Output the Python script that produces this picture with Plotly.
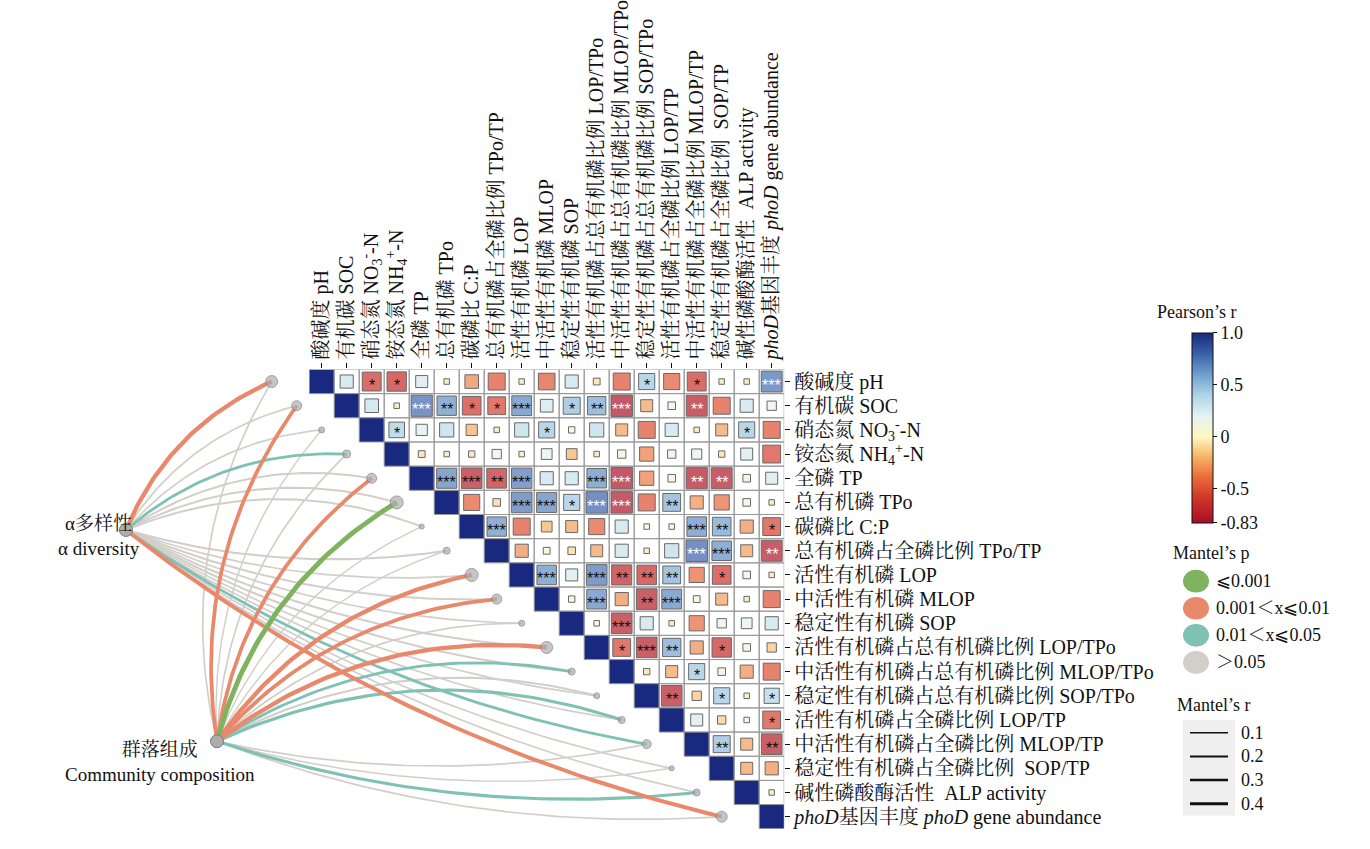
import math
import plotly.graph_objects as go

W, H = 1370, 849
FONT = "Liberation Serif, 'Noto Serif CJK SC', 'Noto Sans CJK SC', serif"

# ---------------- data ----------------
labels = [
    "酸碱度 pH",
    "有机碳 SOC",
    "硝态氮 NO<sub>3</sub><sup>-</sup>-N",
    "铵态氮 NH<sub>4</sub><sup>+</sup>-N",
    "全磷 TP",
    "总有机磷 TPo",
    "碳磷比 C:P",
    "总有机磷占全磷比例 TPo/TP",
    "活性有机磷 LOP",
    "中活性有机磷 MLOP",
    "稳定性有机磷 SOP",
    "活性有机磷占总有机磷比例 LOP/TPo",
    "中活性有机磷占总有机磷比例 MLOP/TPo",
    "稳定性有机磷占总有机磷比例 SOP/TPo",
    "活性有机磷占全磷比例 LOP/TP",
    "中活性有机磷占全磷比例 MLOP/TP",
    "稳定性有机磷占全磷比例\u00a0 SOP/TP",
    "碱性磷酸酶活性\u00a0 ALP activity",
    "<i>phoD</i>基因丰度 <i>phoD</i> gene abundance",
]

# Pearson's r, upper triangle: row i holds columns i+1 .. 18
r_rows = [
    [0.30, -0.62, -0.65, 0.25, -0.05, -0.32, -0.50, -0.05, -0.48, 0.30, -0.08, -0.50, 0.45, -0.45, -0.62, -0.05, -0.05, 0.76],
    [0.32, -0.05, 0.78, 0.65, -0.60, -0.55, 0.68, 0.28, 0.50, 0.58, -0.80, -0.25, 0.10, -0.76, -0.50, 0.30, 0.15],
    [0.42, 0.22, 0.35, -0.22, -0.05, 0.35, 0.45, 0.07, 0.35, -0.25, -0.50, 0.30, -0.05, -0.25, 0.45, -0.50],
    [-0.08, -0.05, -0.07, 0.15, -0.05, 0.20, -0.20, -0.05, 0.12, -0.35, 0.12, 0.18, -0.07, 0.25, -0.55],
    [0.70, -0.74, -0.68, 0.72, 0.30, 0.30, 0.66, -0.80, -0.35, 0.10, -0.78, -0.76, 0.10, 0.25],
    [-0.45, -0.10, 0.74, 0.70, 0.45, 0.80, -0.80, -0.50, 0.55, -0.30, -0.40, 0.10, -0.05],
    [0.65, -0.50, -0.20, -0.25, -0.45, 0.30, 0.05, 0.05, 0.66, 0.60, -0.30, -0.55],
    [-0.30, 0.08, -0.10, -0.25, 0.30, -0.05, 0.35, 0.80, 0.66, -0.25, -0.76],
    [0.66, 0.25, 0.74, -0.70, -0.66, 0.55, -0.40, -0.60, 0.10, -0.05],
    [0.07, 0.68, -0.30, -0.74, 0.68, 0.08, -0.25, -0.05, -0.50],
    [0.05, -0.74, 0.30, -0.05, -0.40, 0.15, 0.20, 0.30],
    [-0.55, -0.74, 0.58, -0.30, -0.65, 0.10, -0.15],
    [-0.07, -0.25, 0.45, 0.10, -0.30, -0.50],
    [-0.74, -0.15, 0.45, -0.05, 0.40],
    [0.25, -0.12, 0.05, -0.55],
    [0.50, -0.25, -0.74],
    [-0.25, -0.30],
    [-0.05],
]
# number of significance stars, same layout as r_rows
sig_rows = [
    [0, 1, 1, 0, 0, 0, 0, 0, 0, 0, 0, 0, 1, 0, 1, 0, 0, 3],
    [0, 0, 3, 2, 1, 1, 3, 0, 1, 2, 3, 0, 0, 2, 0, 0, 0],
    [1, 0, 0, 0, 0, 0, 1, 0, 0, 0, 0, 0, 0, 0, 1, 0],
    [0, 0, 0, 0, 0, 0, 0, 0, 0, 0, 0, 0, 0, 0, 0],
    [3, 3, 2, 3, 0, 0, 3, 3, 0, 0, 2, 2, 0, 0],
    [0, 0, 3, 3, 1, 3, 3, 0, 2, 0, 0, 0, 0],
    [3, 0, 0, 0, 0, 0, 0, 0, 3, 2, 0, 1],
    [0, 0, 0, 0, 0, 0, 0, 3, 3, 0, 2],
    [3, 0, 3, 2, 2, 2, 0, 1, 0, 0],
    [0, 3, 0, 2, 3, 0, 0, 0, 0],
    [0, 3, 0, 0, 0, 0, 0, 0],
    [1, 3, 2, 0, 1, 0, 0],
    [0, 0, 1, 0, 0, 0],
    [2, 0, 1, 0, 1],
    [0, 0, 0, 1],
    [2, 0, 2],
    [0, 0],
    [0],
]

mantel_sources = ["α多样性<br>α diversity", "群落组成<br>Community composition"]
# Mantel's r and p class for each environmental variable
mantel_r_alpha = [0.35, 0.12, 0.12, 0.22, 0.15, 0.15, 0.15, 0.15, 0.12, 0.15,
                  0.12, 0.15, 0.15, 0.12, 0.12, 0.22, 0.12, 0.12, 0.32]
mantel_p_alpha = ["p2", "p4", "p4", "p3", "p4", "p4", "p4", "p4", "p4", "p4",
                  "p4", "p4", "p4", "p4", "p4", "p3", "p4", "p4", "p2"]
mantel_r_comm = [0.12, 0.30, 0.10, 0.12, 0.30, 0.40, 0.10, 0.10, 0.35, 0.30,
                 0.12, 0.35, 0.22, 0.15, 0.25, 0.12, 0.10, 0.25, 0.12]
mantel_p_comm = ["p4", "p2", "p4", "p4", "p2", "p1", "p4", "p4", "p2", "p2",
                 "p4", "p2", "p3", "p4", "p3", "p4", "p4", "p3", "p4"]
node_weight = [0.8, 0.6, 0.2, 0.4, 0.6, 0.9, 0.1, 0.3, 0.9, 0.6,
               0.2, 0.8, 0.3, 0.2, 0.3, 0.5, 0.1, 0.3, 0.7]

p_keys = ["p1", "p2", "p3", "p4"]
p_legend_text = ["⩽0.001", "0.001＜x⩽0.01", "0.01＜x⩽0.05", "＞0.05"]
r_legend_levels = [0.1, 0.2, 0.3, 0.4]
cbar_ticks = [1.0, 0.5, 0.0, -0.5, -0.83]
cbar_ticktext = ["1.0", "0.5", "0", "-0.5", "-0.83"]

# ---------------- styles / geometry ----------------
p_colors = {"p1": "#7FB35F", "p2": "#E8896B", "p3": "#80C1B6", "p4": "#D2CEC9"}
p_order = {"p4": 0, "p3": 1, "p2": 2, "p1": 3}
CMIN, CMAX = -0.83, 1.0
stops = [(-0.83, "#A50F26"), (-0.6, "#CF3329"), (-0.4, "#E8683A"), (-0.2, "#F6B163"),
         (0.0, "#FEF8C2"), (0.2, "#E4F2F3"), (0.4, "#AED4E6"), (0.6, "#6F9FCC"),
         (0.8, "#3A60A8"), (1.0, "#19297F")]
colorscale = [[(v - CMIN) / (CMAX - CMIN), c] for v, c in stops]
DIAG = "#19297F"
TXT = "#111111"

CELL_W, CELL_H = 25.0, 24.55
MX0, MY0 = 309.2, 362.0
N = len(labels)
MX1 = MX0 + N * CELL_W
MY1 = MY0 + N * CELL_H

x_rng = [(0 - MX0) / CELL_W - 0.5, (W - MX0) / CELL_W - 0.5]
y_rng = [(H - MY0) / CELL_H - 0.5, (0 - MY0) / CELL_H - 0.5]

src_pos = [(-7.83, 6.14), (-4.19, 14.88)]
src_label_shift = [(-27, -6), (-57, -21)]


def lw(r):
    return 0.3 + 11.5 * r


def arc(p0, p1, k_up=0.10, k_dn=0.055, n=50):
    x0, y0 = p0[0] * CELL_W, p0[1] * CELL_H
    x1, y1 = p1[0] * CELL_W, p1[1] * CELL_H
    dx, dy = x1 - x0, y1 - y0
    L = math.hypot(dx, dy)
    up = dy < 0
    k = k_up if up else k_dn
    nx = -abs(dy) / L
    ny = (-dx if up else dx) / L
    cx = (x0 + x1) / 2 + nx * 2 * k * L
    cy = (y0 + y1) / 2 + ny * 2 * k * L
    xs, ys = [], []
    for t in [i / n for i in range(n + 1)]:
        bx = (1 - t) ** 2 * x0 + 2 * (1 - t) * t * cx + t ** 2 * x1
        by = (1 - t) ** 2 * y0 + 2 * (1 - t) * t * cy + t ** 2 * y1
        xs.append(bx / CELL_W)
        ys.append(by / CELL_H)
    return xs, ys


fig = go.Figure()

# ---------------- network edges ----------------
edges = []
for s, (rs, ps) in enumerate([(mantel_r_alpha, mantel_p_alpha), (mantel_r_comm, mantel_p_comm)]):
    for i in range(N):
        edges.append((p_order[ps[i]], s, i, rs[i], ps[i]))
edges.sort(key=lambda e: e[0])
for _, s, i, r, p in edges:
    xs, ys = arc(src_pos[s], (i - 2, i))
    fig.add_trace(go.Scatter(x=xs, y=ys, mode="lines", xaxis="x", yaxis="y",
                             line=dict(color=p_colors[p], width=lw(r)),
                             hoverinfo="skip", showlegend=False))

# endpoint nodes
fig.add_trace(go.Scatter(
    x=[i - 2 for i in range(N)], y=list(range(N)), mode="markers", xaxis="x", yaxis="y",
    marker=dict(size=[4 + 10 * w for w in node_weight], color="#ADADAD",
                line=dict(color="#7A7A7A", width=1)),
    hoverinfo="skip", showlegend=False))
fig.add_trace(go.Scatter(
    x=[p[0] for p in src_pos], y=[p[1] for p in src_pos], mode="markers", xaxis="x", yaxis="y",
    marker=dict(size=13, color="#ADADAD", line=dict(color="#7A7A7A", width=1)),
    hoverinfo="skip", showlegend=False))

# ---------------- correlation matrix ----------------
shapes = []
for i in range(N):
    for j in range(i, N):
        shapes.append(dict(type="rect", xref="x2", yref="y2", x0=j - 0.5, x1=j + 0.5,
                           y0=i - 0.5, y1=i + 0.5, layer="below",
                           line=dict(color="#9A9A9A", width=1),
                           fillcolor=DIAG if i == j else "rgba(0,0,0,0)"))

mx, my, mr, ms = [], [], [], []
annotations = []
for i, row in enumerate(r_rows):
    for k, v in enumerate(row):
        j = i + 1 + k
        mx.append(j)
        my.append(i)
        mr.append(v)
        ms.append(max(5.5, 24 * math.sqrt(abs(v))))
        n_star = sig_rows[i][k]
        if n_star:
            annotations.append(dict(
                x=j, y=i, xref="x2", yref="y2", text="*" * n_star, showarrow=False,
                xanchor="center", yanchor="middle",
                yshift=-4, font=dict(family="Liberation Sans, sans-serif", size=16,
                                     color="white" if abs(v) >= 0.75 else TXT)))

fig.add_trace(go.Scatter(
    x=mx, y=my, mode="markers", xaxis="x2", yaxis="y2",
    marker=dict(symbol="square", size=ms, color=mr, colorscale=colorscale,
                cmin=CMIN, cmax=CMAX, line=dict(color="#2A2A2A", width=1),
                showscale=True,
                colorbar=dict(thicknessmode="pixels", thickness=21, lenmode="pixels", len=190,
                              x=1192 / W, xanchor="left", y=1 - 421 / H, yanchor="middle",
                              xpad=0, ypad=0, outlinewidth=1, outlinecolor=TXT,
                              tickmode="array", tickvals=cbar_ticks, ticktext=cbar_ticktext,
                              ticks="outside", ticklen=4, tickcolor=TXT,
                              tickfont=dict(family=FONT, size=18, color=TXT))),
    hoverinfo="skip", showlegend=False))

# ---------------- source labels ----------------
for s in range(2):
    annotations.append(dict(x=src_pos[s][0], y=src_pos[s][1], xref="x", yref="y",
                            text=mantel_sources[s], showarrow=False, align="center",
                            xanchor="center", yanchor="middle",
                            xshift=src_label_shift[s][0], yshift=src_label_shift[s][1],
                            font=dict(family=FONT, size=19, color=TXT)))

# ---------------- legends ----------------
def px(x):
    return x / W


def py(y):
    return 1 - y / H


for txt, (lx, ly) in [("Pearson’s r", (1197, 304)), ("Mantel’s p", (1211, 548)),
                      ("Mantel’s r", (1214, 703))]:
    annotations.append(dict(x=px(lx), y=py(ly), xref="paper", yref="paper", text=txt,
                            xanchor="center", yanchor="middle",
                            showarrow=False, font=dict(family=FONT, size=18, color=TXT)))

for k, key in enumerate(p_keys):
    cy = 577 + 27.5 * k
    shapes.append(dict(type="circle", xref="paper", yref="paper",
                       x0=px(1183), x1=px(1209), y0=py(cy - 11.5), y1=py(cy + 11.5),
                       fillcolor=p_colors[key], line=dict(width=0)))
    annotations.append(dict(x=px(1214), y=py(cy), xref="paper", yref="paper",
                            xanchor="left", yanchor="middle",
                            text=p_legend_text[k], showarrow=False,
                            font=dict(family=FONT, size=18, color=TXT)))

shapes.append(dict(type="rect", xref="paper", yref="paper", x0=px(1183), x1=px(1235),
                   y0=py(815), y1=py(718), fillcolor="#EFEFEF", line=dict(width=0), layer="below"))
for k, lev in enumerate(r_legend_levels):
    cy = 731 + 24 * k
    shapes.append(dict(type="line", xref="paper", yref="paper", x0=px(1190), x1=px(1228),
                       y0=py(cy), y1=py(cy), line=dict(color=TXT, width=1.1 + 5 * lev)))
    annotations.append(dict(x=px(1239), y=py(cy), xref="paper", yref="paper",
                            xanchor="left", yanchor="middle",
                            text=f"{lev:.1f}", showarrow=False,
                            font=dict(family=FONT, size=18, color=TXT)))

fig.update_layout(
    width=W, height=H, margin=dict(l=0, r=0, t=0, b=0),
    paper_bgcolor="white", plot_bgcolor="rgba(0,0,0,0)", showlegend=False,
    xaxis=dict(domain=[0, 1], range=x_rng, visible=False, fixedrange=True),
    yaxis=dict(domain=[0, 1], range=y_rng, visible=False, fixedrange=True),
    xaxis2=dict(domain=[MX0 / W, MX1 / W], range=[-0.5, N - 0.5], anchor="y2", side="top",
                tickmode="array", tickvals=list(range(N)), ticktext=labels, tickangle=-90,
                ticks="outside", ticklen=5, tickcolor=TXT, showgrid=False,
                zeroline=False, showline=False, fixedrange=True,
                tickfont=dict(family=FONT, size=20, color=TXT)),
    yaxis2=dict(domain=[1 - MY1 / H, 1 - MY0 / H], range=[N - 0.5, -0.5], anchor="x2",
                side="right", tickmode="array", tickvals=list(range(N)), ticktext=labels,
                ticks="outside", ticklen=5, tickcolor=TXT, showgrid=False,
                zeroline=False, showline=False, fixedrange=True,
                tickfont=dict(family=FONT, size=20, color=TXT)),
    shapes=shapes, annotations=annotations,
)

fig.write_html("out.html", config={"displayModeBar": False},
               post_script="document.body.style.margin='0';document.body.style.overflow='hidden';")
